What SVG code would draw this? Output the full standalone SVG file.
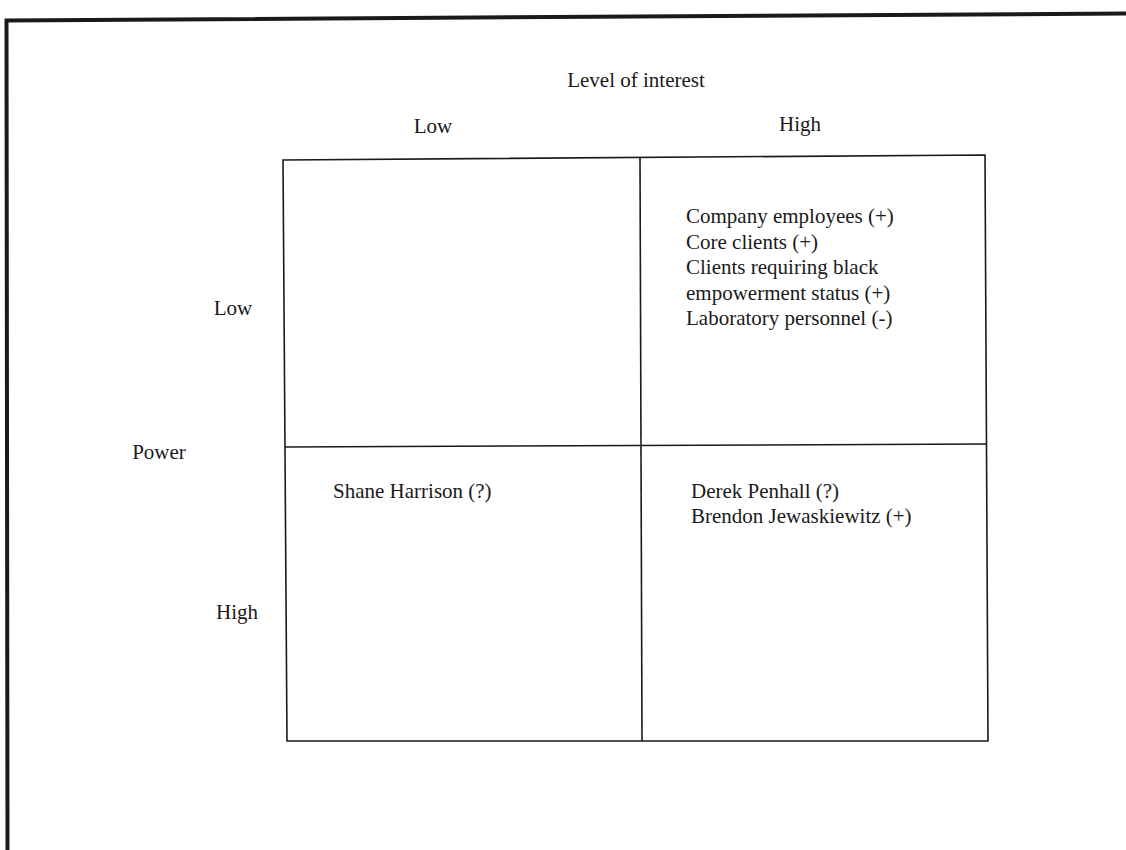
<svg xmlns="http://www.w3.org/2000/svg" width="1126" height="850" viewBox="0 0 1126 850">
  <style>
    .lbl { font-family: "Liberation Serif", "Times New Roman", serif; font-size: 21px; fill: #1a1a1a; }
    .frame { fill: none; stroke: #1a1a1a; stroke-width: 4; }
    .grid { fill: none; stroke: #1a1a1a; stroke-width: 1.6; }
  </style>
  <rect width="1126" height="850" fill="#ffffff"/>

  <!-- page frame -->
  <g id="frame">
    <path class="frame" d="M7.5,850 L6.5,20.5 L1126,13.5"/>
  </g>

  <!-- axis titles -->
  <g id="axis-interest">
    <text class="lbl" x="636" y="87" text-anchor="middle">Level of interest</text>
    <text class="lbl" x="433" y="133" text-anchor="middle">Low</text>
    <text class="lbl" x="800" y="131" text-anchor="middle">High</text>
  </g>
  <g id="axis-power">
    <text class="lbl" x="159" y="459" text-anchor="middle">Power</text>
    <text class="lbl" x="233" y="315" text-anchor="middle">Low</text>
    <text class="lbl" x="237" y="619" text-anchor="middle">High</text>
  </g>

  <!-- 2x2 grid -->
  <g id="connectors">
    <path class="grid" d="M283,160 L985,155 L988,741 L287,741 Z"/>
    <path class="grid" d="M640,157.5 L642,741"/>
    <path class="grid" d="M285,447 L986,444"/>
  </g>

  <!-- quadrants -->
  <g id="q-low-low"></g>
  <g id="q-low-high">
    <text class="lbl" x="686" y="223">Company employees (+)</text>
    <text class="lbl" x="686" y="248.5">Core clients (+)</text>
    <text class="lbl" x="686" y="274">Clients requiring black</text>
    <text class="lbl" x="686" y="299.5">empowerment status (+)</text>
    <text class="lbl" x="686" y="325">Laboratory personnel (-)</text>
  </g>
  <g id="q-high-low">
    <text class="lbl" x="333" y="498">Shane Harrison (?)</text>
  </g>
  <g id="q-high-high">
    <text class="lbl" x="691" y="498">Derek Penhall (?)</text>
    <text class="lbl" x="691" y="523">Brendon Jewaskiewitz (+)</text>
  </g>
</svg>
